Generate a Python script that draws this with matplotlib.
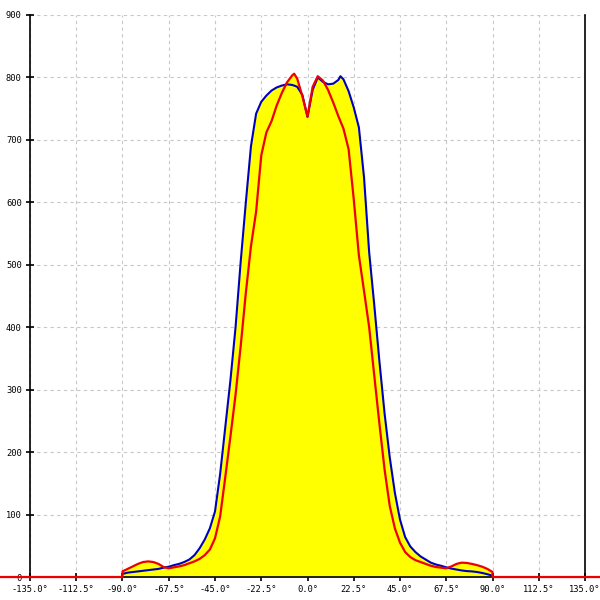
import matplotlib
matplotlib.use("Agg")
import matplotlib.pyplot as plt
import numpy as np

# angle grid shared by both curves (degrees)
angles = [-90, -87.5, -85, -82.5, -80, -77.5, -75, -72.5, -70, -67.5,
          -65, -62.5, -60, -57.5, -55, -52.5, -50, -47.5, -45, -42.5,
          -40, -37.5, -35, -32.5, -30, -27.5, -25, -22.5, -20, -17.5,
          -15, -12.5, -10, -7.5, -6.5, -5, -2.5, 0, 2.5, 5,
          7.5, 10, 12.5, 15, 16, 17.5, 20, 22.5, 25, 27.5,
          30, 32.5, 35, 37.5, 40, 42.5, 45, 47.5, 50, 52.5,
          55, 57.5, 60, 62.5, 65, 67.5, 70, 72.5, 75, 77.5,
          80, 82.5, 85, 87.5, 90]

blue_values = [5, 7, 8, 9, 10, 11, 12, 13, 15, 16.5,
               19, 21, 24, 28, 35, 46, 60, 78, 105, 165,
               240, 315, 400, 505, 600, 690, 742, 761, 771, 779,
               784, 787, 789, 788, 787, 785, 772, 737, 780, 800,
               793, 789, 790, 796, 802, 797, 778, 752, 720, 640,
               520, 435, 345, 262, 192, 135, 92, 64, 49, 40,
               33, 28, 23, 20, 18, 15.5, 13.5, 12, 10.5, 9.5,
               9, 8, 6.5, 4.5, 2]

red_values = [9, 13, 17, 21, 24, 25, 24, 21, 16, 14,
              15.5, 17, 19, 22, 25, 29, 35, 44, 62, 97,
              160, 225, 292, 370, 455, 530, 585, 675, 712, 730,
              755, 775, 792, 803, 806, 798, 770, 737, 785, 802,
              795, 780, 760, 738, 730, 718, 685, 605, 515, 458,
              400, 322, 245, 172, 114, 78, 55, 40, 32, 27,
              24, 21, 18, 16, 15, 14, 17, 21, 23, 22.5,
              21, 19, 16.5, 13, 8]

# red baseline continues outside the measured range
red_edge_left = ([-150, -90], [0, 0])
red_edge_right = ([90, 150], [0, 0])

x_ticks = np.arange(-135, 135.1, 22.5)
y_ticks = np.arange(0, 901, 100)

fig = plt.figure(figsize=(6, 6), dpi=100)
ax = fig.add_axes([0.05, 0.0383, 0.925, 0.9367])

top = np.maximum(blue_values, red_values)
ax.fill_between(angles, 0, top, color="#ffff00", linewidth=0, zorder=2)
ax.plot(angles, blue_values, color="#0000c0", linewidth=1.5, zorder=3)

red_x = red_edge_left[0] + angles + red_edge_right[0]
red_y = red_edge_left[1] + red_values + red_edge_right[1]
ax.plot(red_x, red_y, color="#ee0000", linewidth=1.6, zorder=4, clip_on=False)

ax.set_xlim(-135, 135)
ax.set_ylim(0, 900)
ax.set_xticks(x_ticks)
ax.set_xticklabels([f"{t:.1f}°" for t in x_ticks])
ax.set_yticks(y_ticks)
ax.set_yticklabels([f"{t:d}" for t in y_ticks])

ax.grid(True, color="#c8c8c8", linestyle=(0, (3, 3)), linewidth=0.8, zorder=1)
ax.set_axisbelow(True)

ax.spines["top"].set_visible(False)
for s in ["left", "right", "bottom"]:
    ax.spines[s].set_color("black")
    ax.spines[s].set_linewidth(1.2)
ax.tick_params(axis="both", direction="inout", length=6, width=1.2,
               colors="black", labelsize=6.3, pad=3)
for lab in ax.get_xticklabels() + ax.get_yticklabels():
    lab.set_family("DejaVu Sans Mono")

fig.savefig("out.png", dpi=100)
